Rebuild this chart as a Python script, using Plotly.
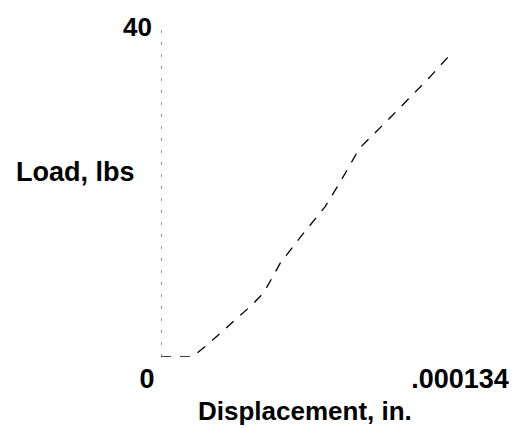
import plotly.graph_objects as go

# Data
displacement_in = [0.0, 13.5e-6, 20.7e-6, 38.9e-6, 44.0e-6, 51.1e-6, 59.6e-6,
                   70.2e-6, 76.5e-6, 85.0e-6, 98.1e-6, 115.0e-6, 124.3e-6]
load_lbs = [0.0, 0.0, 1.7, 6.3, 7.8, 11.4, 14.5, 18.2, 21.1, 25.3, 29.0, 33.9, 36.8]

x_tick_vals = [0.0, 0.000134]
x_tick_text = ["0", ".000134"]
y_tick_vals = [40]
y_tick_text = ["40"]
x_title = "Displacement, in."
y_title = "Load, lbs"

FONT = "Liberation Sans, Arial, Helvetica, sans-serif"

fig = go.Figure()
fig.add_trace(go.Scatter(
    x=displacement_in, y=load_lbs, mode="lines",
    line=dict(color="black", width=1.3, dash="10px,9px"),
    cliponaxis=False, showlegend=False, hoverinfo="skip",
))

# faint dotted y-axis line
fig.add_shape(type="line", xref="x", yref="y", x0=0, x1=0, y0=0, y1=40,
              line=dict(color="#333", width=1, dash="3px,9px"))

fig.update_layout(
    width=521, height=428,
    margin=dict(l=161, r=43, t=27, b=71),
    paper_bgcolor="white", plot_bgcolor="white",
    font=dict(family=FONT, color="black", size=26, weight=700),
    xaxis=dict(range=[0, 0.000134], tickvals=x_tick_vals, ticktext=x_tick_text,
               showgrid=False, zeroline=False, showline=False, ticks="",
               tickfont=dict(size=27, weight=700),
               ticklabelshift=-14, ticklabelstandoff=3),
    yaxis=dict(range=[0, 40], tickvals=y_tick_vals, ticktext=y_tick_text,
               showgrid=False, zeroline=False, showline=False, ticks="",
               tickfont=dict(size=26, weight=700),
               ticklabelstandoff=8),
    annotations=[
        dict(text=y_title, xref="paper", yref="paper", x=-161/317 + 12/317, y=(357-172)/330,
             xanchor="left", yanchor="middle", showarrow=False,
             font=dict(size=27, weight=700)),
        dict(text=x_title, xref="paper", yref="paper", x=(307-161)/317, y=-(411-357)/330,
             xanchor="center", yanchor="middle", showarrow=False,
             font=dict(size=26, weight=700)),
    ],
)

fig.write_html("out.html", config={"displayModeBar": False},
               post_script="document.body.style.margin='0';")
